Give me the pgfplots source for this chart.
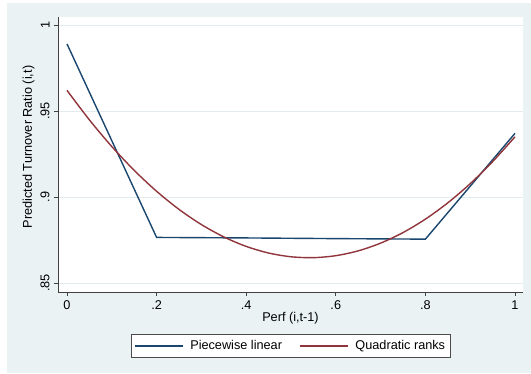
\documentclass[border=0pt]{standalone}
\usepackage{fontspec}
\setmainfont{Liberation Sans}
\usepackage{pgfplots}
\pgfplotsset{compat=1.18}
\definecolor{stblue}{RGB}{26,71,111}
\definecolor{stred}{RGB}{144,53,59}
\definecolor{stbg}{RGB}{234,242,243}
\definecolor{stgrid}{RGB}{226,235,238}
\begin{document}
\fontsize{12.7}{15}\selectfont
\begin{tikzpicture}[x=1pt,y=1pt]
\path[use as bounding box, fill=white] (0,0) rectangle (531,374);
\fill[stbg] (7,1) rectangle (531,371);
\begin{axis}[
  at={(58pt,82pt)}, anchor=south west,
  scale only axis, width=465pt, height=274.5pt,
  xmin=-0.0201, xmax=1.0179, ymin=0.84477, ymax=1.00436,
  axis x line=bottom, axis y line=left,
  axis line style={-, black!75, line width=0.6pt},
  tick align=outside, major tick length=4pt,
  tick style={black!75, line width=0.6pt},
  xtick={0,0.2,0.4,0.6,0.8,1}, xticklabels={0,.2,.4,.6,.8,1},
  ytick={0.85,0.9,0.95,1}, yticklabels={.85,.9,.95,1},
  yticklabel style={rotate=90, anchor=south},
  every tick label/.append style={font=\fontsize{12.7}{15}\selectfont},
  ymajorgrids, grid style={stgrid, line width=0.8pt},
  axis background/.style={fill=white},
  legend columns=2,
  legend style={at={(axis description cs:0.5,-0.1967)}, anchor=center,
    draw=black!70, line width=0.6pt, fill=white,
    font=\fontsize{12.7}{15}\selectfont,
    inner xsep=3pt, inner ysep=4pt,
    /tikz/every odd column/.append style={column sep=5pt},
    /tikz/every even column/.append style={column sep=15pt}},
  legend image code/.code={\draw[#1] (0pt,0pt) -- (48pt,0pt);},
]
\addplot[stblue, line width=1.4pt] coordinates {
  (0,0.989) (0.2,0.8765) (0.4,0.8762) (0.6,0.8758) (0.8,0.8755) (1,0.937)};
\addlegendentry{Piecewise linear}
\addplot[stred, line width=1.4pt, smooth] coordinates {
  (0,0.9620) (0.05,0.94483) (0.1,0.92933) (0.15,0.91549) (0.2,0.90332)
  (0.25,0.89281) (0.3,0.88397) (0.35,0.87679) (0.4,0.87128) (0.45,0.86743)
  (0.5,0.86525) (0.55,0.86473) (0.6,0.86588) (0.65,0.86869) (0.7,0.87317)
  (0.75,0.87931) (0.8,0.88712) (0.85,0.89659) (0.9,0.90773) (0.95,0.92053)
  (1,0.9350)};
\addlegendentry{Quadratic ranks}
\end{axis}
\node[rotate=90] at (28.5,227) {Predicted Turnover Ratio (i,t)};
\node at (290.5,56) {Perf (i,t-1)};
\end{tikzpicture}
\end{document}
